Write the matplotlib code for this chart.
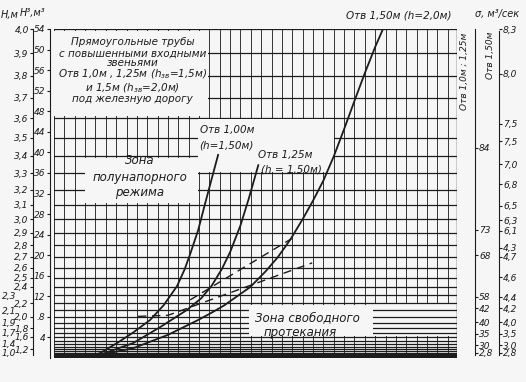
import numpy as np
import matplotlib
matplotlib.use("Agg")
import matplotlib.pyplot as plt
from matplotlib.patches import Rectangle

plt.rcParams['font.family'] = ['DejaVu Sans']
plt.rcParams['font.style'] = 'italic'

# ---- data (x = 0..19, y = H^3, m^3) ----
x_ticks = list(range(20))

# left H^3 scale (labels as printed)
h3_pos = [64, 60, 56, 52, 48, 44, 40, 36, 32, 28, 24, 20, 16, 12, 8, 4]
h3_lab = ["54", "50", "56", "52", "48", "44", "40", "36", "32", "28", "24", "20", "16", "12", ".8", "4"]

# left H scale, placed at H^3
h_inner = [4.0, 3.9, 3.8, 3.7, 3.6, 3.5, 3.4, 3.3, 3.2, 3.1, 3.0, 2.9, 2.8, 2.7, 2.6, 2.5, 2.4,
           2.2, 2.0, 1.8, 1.6, 1.2]
h_outer = [2.3, 2.1, 1.9, 1.7, 1.4, 1.0]

# grid rows: every 0.1 m of H
h_grid = np.round(np.arange(4.0, 0.55, -0.1), 2)

# right scales (values in H^3 units where labels sit)
r1_pos = [40.9, 24.9, 20.0, 11.9, 9.7, 7.0, 4.7, 2.5, 1.0]
r1_lab = ["84", "73", "68", "58", "42", "40", "35", "30", "2,8"]
r2_pos = [64.4, 55.6, 45.9, 42.4, 37.9, 34.0, 29.8, 27.0, 24.9, 21.6, 19.8, 15.8, 11.9, 9.7,
          7.0, 4.7, 2.5, 1.0]
r2_lab = ["8,3", "8,0", "7,5", "7,5", "7,0", "6,8", "6,5", "6,3", "6,1", "4,3", "4,7", "4,6",
          "4,4", "4,2", "4,0", "3,5", "3,0", "2,8"]

# curves
c100_x = [0.3, 1.4, 2.2, 3.04, 3.8, 4.64, 5.3, 5.94, 6.3, 6.57, 6.96, 7.29, 7.6, 7.92]
c100_y = [0.0, 0.2, 0.9, 2.9, 4.9, 7.4, 10.3, 14.0, 17.2, 20.2, 24.9, 30.0, 34.7, 39.5]
c125_x = [0.5, 2.2, 3.82, 5.12, 6.4, 7.1, 7.6, 8.1, 8.5, 9.0, 9.4, 9.86]
c125_y = [0.0, 0.6, 2.9, 6.0, 9.3, 11.6, 14.0, 17.3, 20.6, 25.8, 31.0, 37.5]
c150_x = [0.5, 1.74, 3.82, 5.5, 6.96, 7.6, 8.2, 9.47, 10.2, 10.8, 11.4, 12.0, 12.5, 13.0,
          13.5, 14.0, 14.5, 15.0, 15.5, 15.9]
c150_y = [0.0, 0.2, 1.9, 4.5, 7.4, 8.8, 10.2, 13.8, 16.8, 19.6, 23.0, 27.0, 30.6, 34.5,
          39.2, 44.5, 50.0, 55.4, 60.5, 64.2]

dashA_x = [6.57, 11.5]
dashA_y = [11.3, 23.3]
dashB_x = [4.06, 5.5, 12.46]
dashB_y = [8.1, 8.3, 18.5]

ink = "#1c1c1c"
paper = "#f6f6f6"
PX = 0.72  # points per pixel at 100 dpi

fig = plt.figure(figsize=(5.26, 3.82), dpi=100, facecolor=paper)
ax = fig.add_axes([54/526, 1-358/382, (457-54)/526, (358-29)/382])
ax.set_facecolor(paper)
ax.set_xlim(0, 19.45)
ax.set_ylim(0, 64)

# grid
for gx in np.arange(0, 19.5, 0.5):
    ax.axvline(gx, color="#333333", lw=0.7, zorder=1)
ax.axvline(19.45, color=ink, lw=1.0, zorder=1)
for h in h_grid:
    ax.axhline(h**3, color=ink, lw=0.9, zorder=2)

# masked regions (labels / zones)
def mask(x0, x1, y0, y1, z=2.5):
    ax.add_patch(Rectangle((x0, y0), x1-x0, y1-y0, facecolor=paper, edgecolor="none",
                           zorder=z, clip_on=False))

mask(15.45, 19.4, 4.2, 10.5, z=1.5)   # no verticals right of free-flow box
mask(-0.1, 7.45, 47.0, 63.7)          # title box
mask(1.5, 6.95, 30.1, 39.0)           # semi-pressure zone label
mask(6.95, 13.5, 36.2, 46.4)          # curve labels
mask(9.4, 15.4, 4.35, 10.35)          # free-flow zone label

# curves
for cx, cy in [(c100_x, c100_y), (c125_x, c125_y), (c150_x, c150_y)]:
    ax.plot(cx, cy, color=ink, lw=1.3, zorder=3, solid_joinstyle="round")
ax.plot(dashA_x, dashA_y, color=ink, lw=1.0, ls=(0, (6, 4)), zorder=3)
ax.plot(dashB_x, dashB_y, color=ink, lw=1.0, ls=(0, (6, 4)), zorder=3)

# bottom axis
for s in ax.spines.values():
    s.set_visible(False)
ax.set_xticks(x_ticks)
ax.set_xticklabels([str(v) for v in x_ticks], fontsize=8)
ax.tick_params(axis="x", length=0, pad=4, colors=ink)

# H^3 scale
ax.spines["left"].set_visible(True)
ax.spines["left"].set_position(("outward", 4*PX))
ax.spines["left"].set_color(ink)
ax.set_yticks(h3_pos)
ax.set_yticklabels(h3_lab, fontsize=6.5)
ax.tick_params(axis="y", length=2.5, pad=1, colors=ink)

def side_axis(side, out_px, pos, labs, tick_len, pad, show_spine=True):
    a = ax.twinx()
    a.set_ylim(0, 64)
    for s in a.spines.values():
        s.set_visible(False)
    a.spines[side].set_visible(show_spine)
    a.spines[side].set_position(("outward", out_px*PX))
    a.spines[side].set_color(ink)
    a.spines[side].set_bounds(0.5, 64)
    if side == "left":
        a.yaxis.set_ticks_position("left")
        a.yaxis.set_label_position("left")
    a.set_yticks(pos)
    a.set_yticklabels(labs, fontsize=6.5)
    a.tick_params(axis="y", length=tick_len, pad=pad, colors=ink)
    a.set_xticks([])
    return a

fmt = lambda h: f"{h:.1f}".replace(".", ",")
side_axis("left", 21, [h**3 for h in h_inner], [fmt(h) for h in h_inner], 2, 1)
side_axis("left", 21, [h**3 for h in h_outer], [fmt(h) for h in h_outer], 0, 12,
          show_spine=False)
side_axis("right", 18, r1_pos, r1_lab, 2, 1)
side_axis("right", 42, r2_pos, r2_lab, 2, 1)

# texts
tkw = dict(color=ink, fontsize=7.5, zorder=4)
title_lines = [("Прямоугольные трубы", 61.5), ("с повышенными входными", 59.3),
               ("звеньями", 57.3), ("Отв 1,0м , 1,25м (h$_{зв}$=1,5м)", 55.2),
               ("и 1,5м (h$_{зв}$=2,0м)", 52.5), ("под железную дорогу", 50.3)]
for t, yy in title_lines:
    ax.text(3.8, yy, t, ha="center", va="center", **tkw)

for t, yy in [("Зона", 38.5), ("полунапорного", 35.2), ("режима", 32.1)]:
    ax.text(4.15, yy, t, ha="center", va="center", fontsize=8.5, color=ink, zorder=4)

ax.text(7.05, 44.4, "Отв 1,00м", ha="left", va="center", **tkw)
ax.text(7.0, 41.4, "(h=1,50м)", ha="left", va="center", **tkw)
ax.text(9.85, 39.5, "Отв 1,25м", ha="left", va="center", **tkw)
ax.text(10.0, 36.6, "(h = 1,50м)", ha="left", va="center", **tkw)
ax.text(9.7, 7.8, "Зона свободного", ha="left", va="center", fontsize=8.5, color=ink, zorder=4)
ax.text(10.1, 5.0, "протекания", ha="left", va="center", fontsize=8.5, color=ink, zorder=4)

ax.text(16.65, 66.6, "Отв 1,50м (h=2,0м)", ha="center", va="center", clip_on=False, **tkw)
fig.text(497/526, 1-14/382, "σ, м³/сек", ha="center", va="center", fontsize=7, color=ink)
fig.text(10/526, 1-15/382, "Н,м", ha="center", va="center", fontsize=7, color=ink)
fig.text(33/526, 1-13/382, "Н³,м³", ha="center", va="center", fontsize=7, color=ink)
fig.text(465/526, 1-71/382, "Отв 1,0м ; 1,25м", rotation=90, ha="center", va="center",
         fontsize=6.5, color=ink)
fig.text(491/526, 1-55/382, "Отв 1,50м", rotation=90, ha="center", va="center",
         fontsize=6.5, color=ink)

fig.savefig("out.png", dpi=100, facecolor=paper)
